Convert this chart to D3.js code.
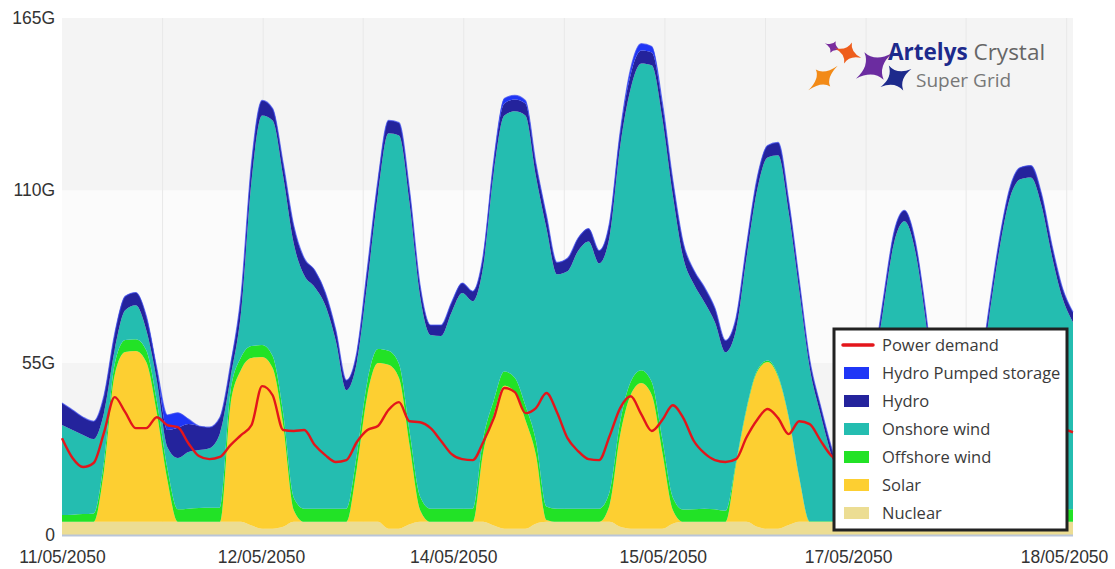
<!DOCTYPE html>
<html><head><meta charset="utf-8">
<script src="https://cdn.jsdelivr.net/npm/d3@7"></script>
<style>
html,body{margin:0;padding:0;background:#fff;overflow:hidden;}
svg{display:block;}
</style></head><body>
<svg id="chart" width="1115" height="569"></svg>
<script>
// ---------------- DATA (GW, 2-hour steps from 11/05/2050 00:00) ----------------
const nuclear = [
 4.2,4.2,4.2,4.2,4.2,4.2,4.2,4.2,4.2,4.2,4.2,4.2,
 4.2,4.2,4.2,4.2,4.2,4.2,3.0,2.0,2.0,2.6,4.2,4.2,
 4.2,4.2,4.2,4.2,4.2,4.2,4.2,2.0,2.0,3.4,4.2,4.2,
 4.2,4.2,4.2,4.2,4.2,3.0,2.0,2.0,2.0,3.6,4.2,4.2,
 4.2,4.2,4.2,4.2,4.2,2.6,2.0,2.0,2.0,2.0,3.6,4.2,
 4.2,4.2,4.2,4.2,4.2,4.2,2.6,2.0,2.0,3.2,4.2,4.2,
 4.2,4.2,4.2,4.2,4.2,4.2,4.2,2.6,2.0,2.6,4.2,4.2,
 4.2,4.2,4.2,4.2,4.2,4.2,4.2,2.6,2.0,2.6,4.2,4.2,
 4.2];
const solar = [
 0,0,0,0,16.6,46.9,54.2,54.5,51.0,34.8,13.4,0,
 0,0,0,0,37.3,48.5,53.5,54.8,51.3,32.5,3.8,0,
 0,0,0,0,17.2,40.5,50.7,52.3,48.1,25.3,3.8,0,
 0,0,0,0,22.3,35.3,45.6,43.6,34.7,22.0,0.6,0,
 0,0,0,0,5.4,29.3,42.7,46.5,42.7,24.5,4.4,0,
 0,0,0,0,18.2,35.7,49.4,53.2,48.4,34.2,14.0,0,
 0,0,0,0,16,38,48,53.6,50.2,34.6,12,0,
 0,0,0,0,17,40,50,54.6,50.2,33.6,12,0,
 0];
const offshore = [
 2.2,2.3,2.5,2.7,3.0,3.4,3.8,3.8,3.8,3.8,3.8,4.0,
 4.2,4.4,4.5,4.5,4.2,4.0,3.8,3.8,3.8,3.8,4.0,4.2,
 4.2,4.2,4.2,4.2,4.3,4.4,4.5,4.5,4.5,4.4,4.3,4.2,
 4.2,4.2,4.2,4.2,4.4,4.6,4.6,4.6,4.6,4.5,4.3,4.2,
 4.2,4.2,4.2,4.2,4.2,4.2,4.2,4.1,4.1,4.1,4.0,3.9,
 4.0,4.2,4.0,3.5,0.8,0.6,0.5,0.5,0.5,0.4,0.3,0.2,
 0.2,0.2,0.3,0.3,0.3,0.3,0.3,0.3,0.3,0.3,0.3,0.3,
 0.5,1.0,1.5,2.0,2.5,3.0,3.3,3.5,3.7,3.8,3.9,4.0,
 4.0];
const onshore = [
 28.7,27.0,25.2,23.7,15.4,4.5,9.5,10.8,6.4,6.6,6.7,16.4,
 18.1,18.5,19.0,23.8,4.4,14.4,52.9,73.3,75.2,75.6,81.1,74.5,
 70.7,64.9,53.5,37.8,29.5,31.6,49.3,69.4,72.9,72.8,63.9,55.4,
 55.1,62.7,68.8,66.2,54.9,72.8,81.7,85.0,92.6,84.4,88.8,74.8,
 75.8,82.2,85.3,78.3,81.5,87.9,93.6,97.9,101.1,102.4,96.4,80.2,
 71.8,65.9,59.7,50.6,42.2,48.1,57.5,64.8,70.3,65.2,59.6,48.9,
 34.5,21.7,10.5,7.9,7.2,6.9,19.9,36.6,47.6,53.4,52.1,35.4,
 16.7,13.0,24.6,39.1,44.9,43.7,50.0,52.8,58.2,65.2,68.9,67.4,
 59.7];
const hydro = [
 7.0,6.4,5.7,5.7,5.4,5.1,4.5,4.1,4.5,3.8,5.4,9.6,
 8.9,7.7,6.7,5.1,4.1,5.4,5.7,4.8,3.8,4.1,5.7,5.4,
 5.4,4.1,3.5,3.2,3.2,4.5,4.5,4.1,4.1,4.1,3.5,3.2,
 3.5,3.2,3.2,3.2,3.5,3.8,3.8,3.8,3.8,4.1,4.1,3.8,
 4.1,4.1,4.1,4.1,4.5,4.5,4.5,4.1,4.1,4.5,4.8,4.8,
 4.5,4.8,4.5,3.8,3.8,3.8,3.8,3.8,4.1,3.8,3.2,2.6,
 2.6,2.6,2.6,2.6,2.6,3.2,3.2,3.5,3.5,3.2,3.2,3.2,
 2.6,2.6,3.2,2.6,3.2,3.2,3.2,3.8,3.8,3.8,3.5,3.2,
 3.2];
const pumped = [
 0,0,0,0,0,0,0,0,0,0,4.8,4.8,
 1.6,0,0,0,0,0,0,0,0,0,0,0,
 0,0,0,0,0,0,0,0,0,0,0,0,
 0,0,0,0,0,0,1.6,1.3,1.0,0,0,0,
 0,0,0,0,0,0,1.9,2.2,1.9,0.6,0,0,
 0,0,0,0,0,0,0,0,0,0,0,0,
 0,0,0,0,0,0,0,0,0,0,0,0,
 0,0,0,0,0,0,0,0,0,0,0,0,
 0];
const demand = [
 30.9,24.6,21.7,23.0,32.8,44.0,39.2,34.1,34.1,37.6,35.1,34.4,
 29.3,25.2,24.2,24.9,28.7,31.9,35.1,47.5,44.6,33.5,33.2,33.5,
 28.7,25.5,23.3,23.9,29.7,33.5,34.8,39.9,42.4,36.3,36.0,34.1,
 30.0,25.8,24.2,23.9,29.7,37.3,46.9,45.6,38.9,40.5,45.3,39.2,
 30.9,26.8,24.2,23.9,31.6,40.5,44.3,38.6,33.2,36.7,41.4,37.3,
 30.0,26.1,23.9,23.3,24.2,31.2,36.7,40.2,37.3,32.2,36.3,35.4,
 30.3,25.5,23.3,23.0,25.5,33.5,39.9,42.4,36.7,35.1,39.9,36.7,
 29.7,25.5,23.3,23.9,30.3,36.7,43.0,41.4,35.1,38.3,36.7,34.1,
 32.8];

const yTicks = [0, 55, 110, 165];
const yTickLabels = ["0", "55G", "110G", "165G"];
const xTickLabels = ["11/05/2050","12/05/2050","14/05/2050","15/05/2050","17/05/2050","18/05/2050"];
const xTickHours = [0, 37.8, 74.3, 114.1, 149.3, 190.3];
const gridHours = [19.1, 38.2, 57.2, 76.3, 95.4, 114.5, 133.6, 152.7, 171.7, 190.8];

const legendNames = ["Power demand","Hydro Pumped storage","Hydro","Onshore wind","Offshore wind","Solar","Nuclear"];

// ---------------- STYLE ----------------
const colors = {
  "Nuclear": "#ecdd93",
  "Solar": "#fdcf31",
  "Offshore wind": "#22e226",
  "Onshore wind": "#24bdb0",
  "Hydro": "#24239c",
  "Hydro Pumped storage": "#1f36f6",
  "Power demand": "#e3161b"
};
const keys = ["Nuclear","Solar","Offshore wind","Onshore wind","Hydro","Hydro Pumped storage"];
const seriesArrays = [nuclear, solar, offshore, onshore, hydro, pumped];

const plot = {left: 62, right: 1073, top: 18, bottom: 535};
const t0 = Date.UTC(2050, 4, 11);
const times = nuclear.map((_, i) => new Date(t0 + i * 2 * 3600e3));
const rows = times.map((t, i) => {
  const r = {time: t};
  keys.forEach((k, j) => r[k] = seriesArrays[j][i]);
  r.demand = demand[i];
  return r;
});

const x = d3.scaleUtc().domain([new Date(t0), new Date(t0 + 192 * 3600e3)]).range([plot.left, plot.right]);
const y = d3.scaleLinear().domain([0, 165]).range([plot.bottom, plot.top]);
const hour = h => new Date(t0 + h * 3600e3);

const svg = d3.select("#chart");

// background bands
const bands = [[0,55,"#f4f4f4"],[55,110,"#fbfbfb"],[110,165,"#f4f4f4"]];
svg.append("g").selectAll("rect").data(bands).join("rect")
  .attr("x", plot.left).attr("width", plot.right - plot.left)
  .attr("y", d => y(d[1])).attr("height", d => y(d[0]) - y(d[1]))
  .attr("fill", d => d[2]);

// vertical grid
svg.append("g").selectAll("line").data(gridHours).join("line")
  .attr("x1", d => x(hour(d))).attr("x2", d => x(hour(d)))
  .attr("y1", plot.top).attr("y2", plot.bottom)
  .attr("stroke", "#e8e8e8").attr("stroke-width", 1);

// stacked areas
const stack = d3.stack().keys(keys);
const stacked = stack(rows);
const area = d3.area()
  .x(d => x(d.data.time)).y0(d => y(d[0])).y1(d => y(d[1]))
  .curve(d3.curveMonotoneX);
svg.append("g").selectAll("path").data(stacked).join("path")
  .attr("d", area).attr("fill", d => colors[d.key]);

// top outline (pumped storage line)
const topLine = d3.line().x(d => x(d.data.time)).y(d => y(d[1])).curve(d3.curveMonotoneX);
svg.append("path").datum(stacked[stacked.length - 1])
  .attr("d", topLine).attr("fill", "none")
  .attr("stroke", "#3d4cf0").attr("stroke-width", 1.2).attr("stroke-opacity", 0.7);

// demand line
const dLine = d3.line().x(d => x(d.time)).y(d => y(d.demand)).curve(d3.curveMonotoneX);
svg.append("path").datum(rows).attr("d", dLine)
  .attr("fill", "none").attr("stroke", colors["Power demand"]).attr("stroke-width", 2.4)
  .attr("stroke-linejoin", "round");

// x baseline
svg.append("line").attr("x1", plot.left).attr("x2", plot.right)
  .attr("y1", plot.bottom + 0.5).attr("y2", plot.bottom + 0.5)
  .attr("stroke", "#b9c5d8").attr("stroke-width", 2);

// y axis
const yAxis = d3.axisLeft(y).tickValues(yTicks)
  .tickFormat((d, i) => yTickLabels[i]).tickSize(0).tickPadding(7);
const gy = svg.append("g").attr("transform", `translate(${plot.left},0)`).call(yAxis);
gy.select(".domain").remove();
gy.selectAll("text").attr("font-family", "Liberation Sans, Arial, sans-serif")
  .attr("font-size", "17.5px").attr("fill", "#333");

// x axis
const xAxis = d3.axisBottom(x).tickValues(xTickHours.map(hour))
  .tickFormat((d, i) => xTickLabels[i]).tickSize(0).tickPadding(16);
const gx = svg.append("g").attr("transform", `translate(0,${plot.bottom})`).call(xAxis);
gx.select(".domain").remove();
gx.selectAll("text").attr("font-family", "Liberation Sans, Arial, sans-serif")
  .attr("font-size", "17.5px").attr("fill", "#333");

// logo
const logo = svg.append("g");
function starPath(r, k) {
  const c = r * k;
  return `M0,${-r} Q${c},${-c} ${r},0 Q${c},${c} 0,${r} Q${-c},${c} ${-r},0 Q${-c},${-c} 0,${-r} Z`;
}
const stars = [
  {cx: 833, cy: 47, r: 9, rot: 25, sx: 1.0, sy: 0.7, c: "#7a2d9e"},
  {cx: 848, cy: 53, r: 14, rot: 20, sx: 1.0, sy: 0.8, c: "#ee5d1c"},
  {cx: 823, cy: 78, r: 16, rot: -40, sx: 1.2, sy: 0.7, c: "#f28a17"},
  {cx: 874, cy: 66, r: 21, rot: -35, sx: 1.05, sy: 0.8, c: "#6b2ca0"},
  {cx: 896, cy: 78, r: 17, rot: -30, sx: 1.05, sy: 0.85, c: "#1d2a8c"}
];
logo.selectAll("path").data(stars).join("path")
  .attr("d", d => starPath(d.r, 0.14))
  .attr("transform", d => `translate(${d.cx},${d.cy}) rotate(${d.rot}) scale(${d.sx},${d.sy})`)
  .attr("fill", d => d.c);
const lt = logo.append("text").attr("x", 888).attr("y", 60)
  .attr("font-family", "Open Sans, sans-serif").attr("font-size", "22.5px");
lt.append("tspan").attr("font-weight", "bold").attr("fill", "#1d2a8c").text("Artelys");
lt.append("tspan").attr("fill", "#666").text(" Crystal");
logo.append("text").attr("x", 916).attr("y", 87)
  .attr("font-family", "Open Sans, sans-serif").attr("font-size", "19px")
  .attr("fill", "#777").text("Super Grid");

// legend
const lg = svg.append("g");
lg.append("rect").attr("x", 834).attr("y", 329).attr("width", 233).attr("height", 201)
  .attr("fill", "#fff").attr("stroke", "#222").attr("stroke-width", 3);
const ly = d3.scalePoint().domain(legendNames).range([345, 513]);
const items = lg.selectAll("g.item").data(legendNames).join("g")
  .attr("transform", d => `translate(0,${ly(d)})`);
items.filter(d => d === "Power demand").append("line")
  .attr("x1", 843).attr("x2", 873).attr("y1", 0).attr("y2", 0)
  .attr("stroke", colors["Power demand"]).attr("stroke-width", 3.5).attr("stroke-linecap", "round");
items.filter(d => d !== "Power demand").append("rect")
  .attr("x", 844).attr("y", -6).attr("width", 25).attr("height", 12)
  .attr("fill", d => colors[d]);
items.append("text").attr("x", 882).attr("y", 0).attr("dy", "0.35em")
  .attr("font-family", "Open Sans, sans-serif").attr("font-size", "16.5px")
  .attr("fill", "#3a3a3a").text(d => d);
</script>
</body></html>
